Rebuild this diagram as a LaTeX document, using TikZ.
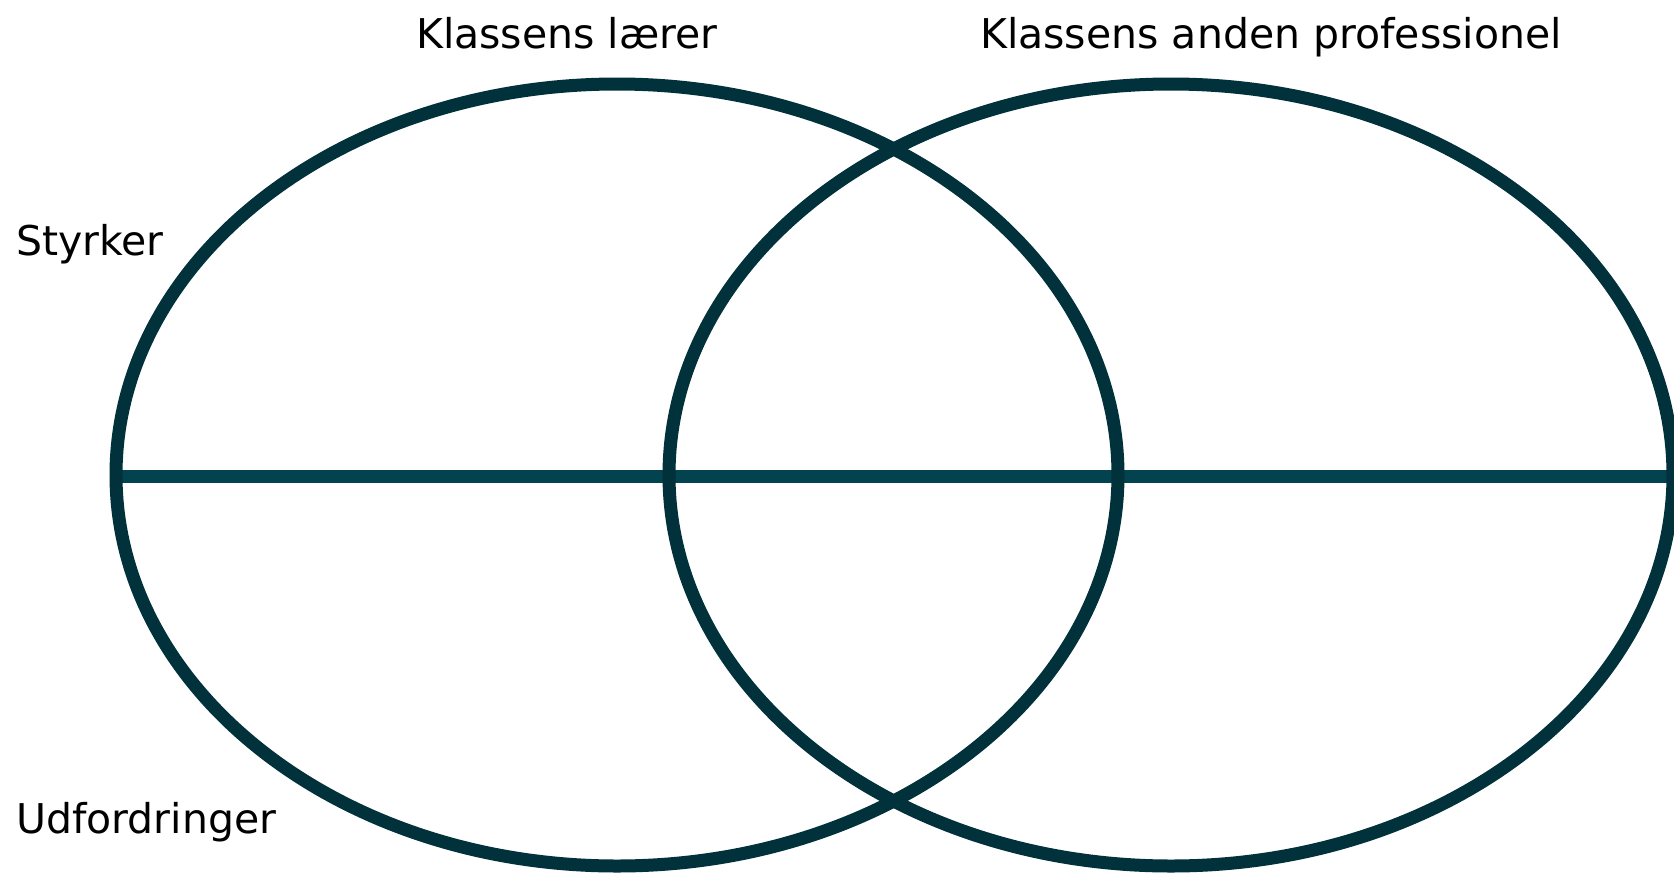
\documentclass[tikz,border=0pt]{standalone}
\usepackage{fontspec}
\setmainfont{DejaVu Sans}
\definecolor{ringcol}{HTML}{01313B}
\definecolor{linecol}{HTML}{03424F}
\begin{document}
\begin{tikzpicture}[x=1pt,y=-1pt,
  ring/.style={draw=ringcol,line width=13pt},
  divider/.style={draw=linecol,line width=13pt},
  lbl/.style={anchor=base west,inner sep=0pt,font=\fontsize{41}{49}\selectfont,text=black}]
\useasboundingbox (0,0) rectangle (1674,873);
\coordinate (cl) at (617,475);
\coordinate (cr) at (1171,475);
\coordinate (lw) at (117,476);
\coordinate (re) at (1672,476);
\draw[divider] (lw) -- (re);
\draw[ring] (cl) ellipse [x radius=501, y radius=391];
\draw[ring] (cr) ellipse [x radius=502, y radius=391];
\node[lbl] (t1) at (416,48) {Klassens lærer};
\node[lbl] (t2) at (980,48) {Klassens anden professionel};
\node[lbl] (s) at (16,255) {Styrker};
\node[lbl] (u) at (16,833) {Udfordringer};
\end{tikzpicture}
\end{document}
